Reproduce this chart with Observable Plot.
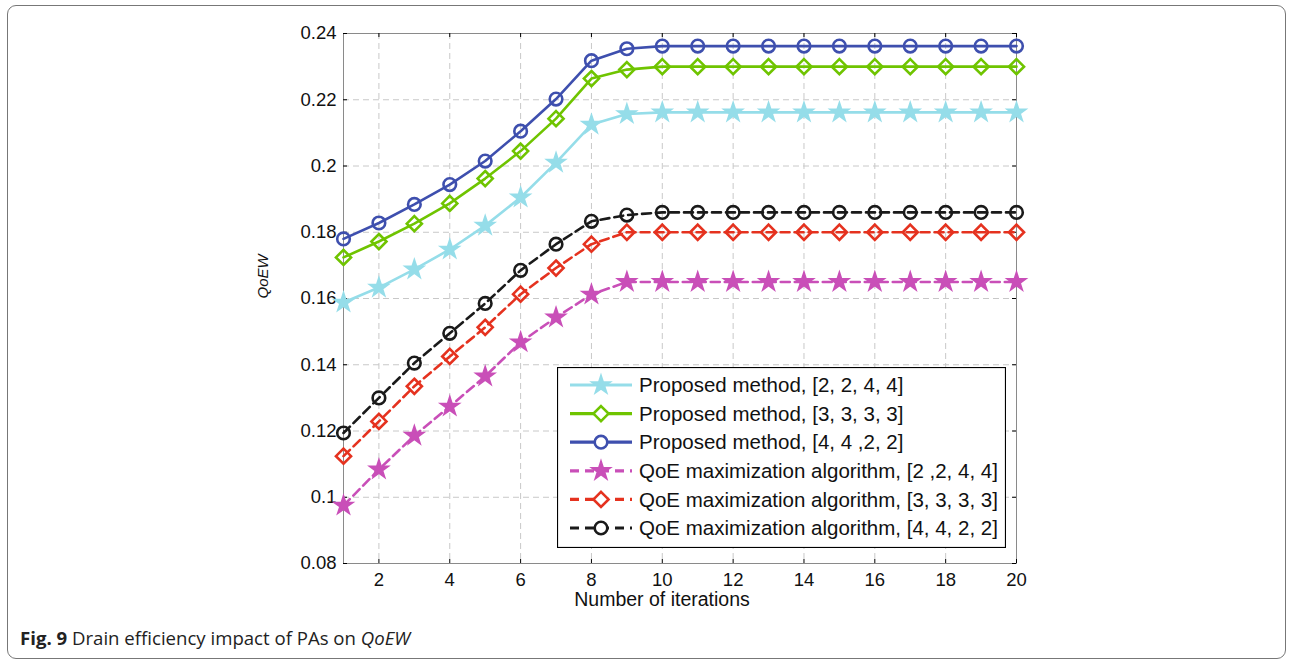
<!DOCTYPE html>
<html>
<head>
<meta charset="utf-8">
<script src="https://cdn.jsdelivr.net/npm/d3@7"></script>
<script src="https://cdn.jsdelivr.net/npm/@observablehq/plot@0.6"></script>
<style>
  html, body { margin: 0; padding: 0; background: #fff; }
  #wrap { position: relative; width: 1290px; height: 662px; overflow: hidden; }
  #frame { position: absolute; left: 7px; top: 5px; width: 1279px; height: 654px;
           border: 1.5px solid #777; border-radius: 9px; box-sizing: border-box; }
  #chart { position: absolute; left: 0; top: 0; }
  #legend { position: absolute; left: 557px; top: 367px; }
  #caption { position: absolute; left: 20px; top: 625px; font-family: "Open Sans", "Noto Sans", sans-serif;
             font-size: 18.6px; color: #222; white-space: nowrap; }
</style>
</head>
<body>
<div id="wrap">
  <div id="frame"></div>
  <div id="chart"></div>
  <div id="legend"></div>
  <div id="caption"><b>Fig. 9</b> Drain efficiency impact of PAs on <i>QoEW</i></div>
</div>
<script>
// ---- data ----
const iterations = [1,2,3,4,5,6,7,8,9,10,11,12,13,14,15,16,17,18,19,20];
const seriesNames = [
  "Proposed method, [2, 2, 4, 4]",
  "Proposed method, [3, 3, 3, 3]",
  "Proposed method, [4, 4 ,2, 2]",
  "QoE maximization algorithm, [2 ,2, 4, 4]",
  "QoE maximization algorithm, [3, 3, 3, 3]",
  "QoE maximization algorithm, [4, 4, 2, 2]"
];
const proposed2244 = [0.1588,0.1633,0.1688,0.1748,0.1820,0.1905,0.2010,0.2125,0.2157,0.2162,0.2162,0.2162,0.2162,0.2162,0.2162,0.2162,0.2162,0.2162,0.2162,0.2162];
const proposed3333 = [0.1724,0.1772,0.1826,0.1887,0.1962,0.2045,0.2143,0.2264,0.2291,0.2300,0.2300,0.2300,0.2300,0.2300,0.2300,0.2300,0.2300,0.2300,0.2300,0.2300];
const proposed4422 = [0.1780,0.1828,0.1884,0.1944,0.2015,0.2105,0.2202,0.2318,0.2354,0.2362,0.2362,0.2362,0.2362,0.2362,0.2362,0.2362,0.2362,0.2362,0.2362,0.2362];
const qoe2244 = [0.0975,0.1084,0.1186,0.1274,0.1365,0.1468,0.1543,0.1612,0.1650,0.1650,0.1650,0.1650,0.1650,0.1650,0.1650,0.1650,0.1650,0.1650,0.1650,0.1650];
const qoe3333 = [0.1124,0.1229,0.1335,0.1425,0.1513,0.1613,0.1692,0.1764,0.1800,0.1800,0.1800,0.1800,0.1800,0.1800,0.1800,0.1800,0.1800,0.1800,0.1800,0.1800];
const qoe4422 = [0.1194,0.1300,0.1405,0.1495,0.1585,0.1685,0.1764,0.1833,0.1852,0.1860,0.1860,0.1860,0.1860,0.1860,0.1860,0.1860,0.1860,0.1860,0.1860,0.1860];
const xTicks = [2,4,6,8,10,12,14,16,18,20];
const yTicks = [0.08,0.10,0.12,0.14,0.16,0.18,0.20,0.22,0.24];
const xLabel = "Number of iterations";
const yLabel = "QoEW";

// ---- styles ----
const seriesValues = [proposed2244, proposed3333, proposed4422, qoe2244, qoe3333, qoe4422];
const styles = [
  {color: "#95dde9", dash: null,  symbol: "star",     r: 5.9, sw: 1.6, fill: true},
  {color: "#6fc400", dash: null,  symbol: "diamond2", r: 6.8, sw: 2.6, fill: false},
  {color: "#3e4fae", dash: null,  symbol: "circle",   r: 6.3, sw: 2.6, fill: false},
  {color: "#c94fb8", dash: "9,5", symbol: "star",     r: 5.9, sw: 1.6, fill: true},
  {color: "#e5321f", dash: "9,5", symbol: "diamond2", r: 6.8, sw: 2.6, fill: false},
  {color: "#1a1a1a", dash: "9,5", symbol: "circle",   r: 6.3, sw: 2.6, fill: false}
];

const font = "'Liberation Sans', Arial, sans-serif";
const marks = [];
// grid
marks.push(Plot.gridX(xTicks, {stroke: "#c8c8c8", strokeOpacity: 1, strokeDasharray: "6,4"}));
marks.push(Plot.gridY(yTicks, {stroke: "#c8c8c8", strokeOpacity: 1, strokeDasharray: "6,4"}));
marks.push(Plot.frame({stroke: "#8a8a8a"}));
// inner ticks on four sides
marks.push(Plot.tickX(xTicks, {x: d => d, insetTop: 526, stroke: "#000"}));
marks.push(Plot.tickX(xTicks, {x: d => d, insetBottom: 526, stroke: "#000"}));
marks.push(Plot.tickY(yTicks, {y: d => d, insetRight: 669, stroke: "#000"}));
marks.push(Plot.tickY(yTicks, {y: d => d, insetLeft: 669, stroke: "#000"}));
// axes labels
marks.push(Plot.axisX(xTicks, {tickSize: 0, tickPadding: 9, fontSize: 18.5, label: null}));
marks.push(Plot.axisY(yTicks, {tickSize: 0, tickPadding: 7, fontSize: 18.5, label: null,
  tickFormat: d => String(+d.toFixed(2))}));
marks.push(Plot.text([xLabel], {frameAnchor: "bottom", dx: -18, dy: 42, fontSize: 19.5, fill: "#111"}));
marks.push(Plot.text([yLabel], {frameAnchor: "left", dx: -80, rotate: -90, fontSize: 15, fontStyle: "italic", fill: "#111"}));

seriesValues.forEach((vals, i) => {
  const s = styles[i];
  const rows = iterations.map((x, j) => ({x, y: vals[j]}));
  marks.push(Plot.line(rows, {x: "x", y: "y", stroke: s.color, strokeWidth: 2.6,
    strokeDasharray: s.dash}));
  marks.push(Plot.dot(rows, {x: "x", y: "y", symbol: () => s.symbol, r: s.r,
    stroke: s.color, strokeWidth: s.sw, fill: s.fill ? s.color : "none"}));
});

const chart = Plot.plot({
  width: 1290, height: 662,
  marginLeft: 343, marginRight: 274, marginTop: 33, marginBottom: 99,
  style: {fontFamily: font, color: "#111", background: "transparent"},
  x: {domain: [1, 20], type: "linear"},
  y: {domain: [0.08, 0.24]},
  symbol: {type: "identity"},
  marks
});
document.getElementById("chart").appendChild(chart);

// ---- legend ----
const lw = 449, lh = 181;
const leg = d3.select("#legend").append("svg").attr("width", lw).attr("height", lh)
  .style("font-family", font);
leg.append("rect").attr("x", 0.5).attr("y", 0.5).attr("width", lw - 1).attr("height", lh - 1)
  .attr("fill", "#fff").attr("stroke", "#000").attr("stroke-width", 1.2);
const symMap = {star: d3.symbolStar, diamond2: d3.symbolDiamond2, circle: d3.symbolCircle};
seriesNames.forEach((name, i) => {
  const s = styles[i];
  const cy = 18 + i * 28.6;
  const g = leg.append("g").attr("transform", `translate(0,${cy})`);
  g.append("line").attr("x1", 13).attr("x2", 75).attr("y1", 0).attr("y2", 0)
    .attr("stroke", s.color).attr("stroke-width", 3.2)
    .attr("stroke-dasharray", s.dash ? "9,6" : null);
  const size = Math.PI * s.r * s.r;
  g.append("path").attr("d", d3.symbol(symMap[s.symbol], size)())
    .attr("transform", "translate(44,0)")
    .attr("fill", s.fill ? s.color : "#fff")
    .attr("stroke", s.color).attr("stroke-width", s.sw);
  g.append("text").attr("x", 82).attr("y", 0).attr("dy", "0.35em")
    .attr("font-size", 20.5).attr("fill", "#111").text(name);
});
</script>
</body>
</html>
